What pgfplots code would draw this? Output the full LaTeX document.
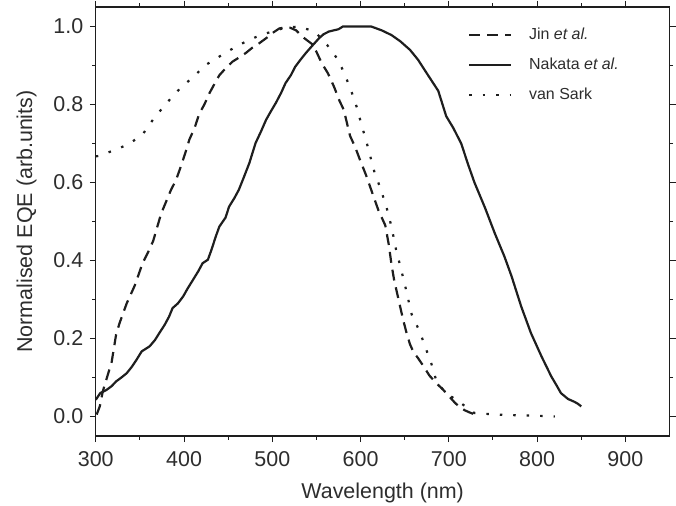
\documentclass[border=0pt]{standalone}
\usepackage{pgfplots}
\pgfplotsset{compat=1.18}
\usepackage{fontspec}
\setmainfont{Liberation Sans}
\definecolor{ink}{RGB}{30,30,30}
\definecolor{txt}{RGB}{45,45,45}
\begin{document}
\begin{tikzpicture}
\begin{axis}[
  at={(0,0)}, anchor=south west,
  scale only axis, width=575pt, height=430pt,
  xmin=300, xmax=950, ymin=-0.05, ymax=1.05,
  xtick={300,400,...,900}, ytick={0,0.2,...,1.0},
  minor x tick num=1, minor y tick num=1,
  tick align=outside, xtick pos=both, ytick pos=both,
  major tick length=6pt, minor tick length=3.5pt,
  every tick/.style={ink, line width=1pt},
  axis line style={ink, line width=1.1pt},
  /pgf/number format/assume math mode=true,
  yticklabel style={/pgf/number format/.cd, fixed, fixed zerofill, precision=1, /tikz/.cd, xshift=-3pt},
  xticklabel style={/pgf/number format/.cd, fixed, 1000 sep={}, /tikz/.cd, yshift=-6pt},
  tick label style={font=\fontsize{21.5}{25}\selectfont, text=txt},
  label style={font=\fontsize{21.5}{25}\selectfont, text=txt},
  xlabel={Wavelength (nm)}, ylabel={Normalised EQE (arb.units)},
  xlabel style={yshift=-9pt}, ylabel style={yshift=10pt},
  legend style={draw=none, fill=none, at={(0.645,0.96)}, anchor=north west,
    font=\fontsize{16}{19}\selectfont, text=txt, row sep=13pt,
    inner xsep=2pt, /tikz/every odd column/.append style={column sep=15pt}},
  legend cell align=left,
  legend image code/.code={\draw[#1] (0pt,0pt) -- (42pt,0pt);},
  clip=true,
]
\addplot[ink, line width=2.2pt, dash pattern=on 11pt off 7pt] coordinates {
(301,0.005) (304.5,0.026) (308,0.065) (310,0.08) (314,0.11) (318,0.14)
(323,0.21) (327,0.24) (331,0.265) (335,0.29) (344,0.335) (353,0.393)
(359,0.42) (365,0.45) (374,0.52) (385,0.58) (391,0.607) (397,0.645)
(402,0.68) (406,0.71) (412,0.74) (417,0.775) (423,0.80) (429,0.83)
(435,0.855) (440,0.875) (448,0.895) (455,0.91) (462,0.92) (470,0.932)
(477,0.945) (481,0.95) (490,0.965) (496,0.975) (500,0.983) (508,0.995)
(515,0.998) (520,0.997) (527,0.99) (535,0.972) (545,0.955) (550,0.935)
(556,0.906) (563,0.88) (570,0.845) (576,0.81) (581,0.786) (588,0.72)
(594,0.69) (599,0.66) (606,0.62) (613,0.575) (620,0.53) (628,0.49)
(632,0.44) (635,0.39) (638,0.35) (641,0.32) (644,0.29) (648,0.25)
(652,0.215) (656,0.185) (660,0.165) (665,0.15) (671,0.13) (678,0.105)
(686,0.085) (693,0.07) (701,0.05) (707,0.035) (712,0.025) (718,0.016)
(724,0.01) (731,0.004)
};
\addlegendentry{Jin \textit{et al.}}
\addplot[ink, line width=2.2pt] coordinates {
(300,0.043) (305,0.06) (312,0.068) (318,0.078) (323,0.09) (329,0.1)
(335,0.111) (341,0.128) (346,0.145) (352,0.167) (361,0.18) (367,0.196)
(372,0.214) (378,0.235) (383,0.256) (387,0.278) (393,0.29) (399,0.308)
(404,0.328) (410,0.35) (416,0.372) (421,0.393) (427,0.402) (431,0.427)
(436,0.462) (440,0.487) (447,0.51) (451,0.538) (457,0.56) (462,0.581)
(468,0.615) (474,0.65) (481,0.701) (487,0.73) (493,0.761) (499,0.785)
(504,0.804) (510,0.83) (515,0.855) (521,0.875) (526,0.897) (532,0.915)
(538,0.932) (545,0.95) (553,0.97) (558,0.98) (564,0.987) (575,0.993)
(580,1.0) (595,1.0) (612,1.0) (624,0.99) (635,0.978) (645,0.962)
(656,0.94) (665,0.915) (675,0.88) (688,0.835) (697,0.77) (705,0.74)
(714,0.70) (722,0.645) (729,0.60) (741,0.535) (752,0.47) (763,0.41)
(771,0.36) (782,0.282) (793,0.214) (805,0.154) (816,0.103) (822,0.08)
(827,0.06) (835,0.045) (842,0.038) (846,0.033) (850,0.026)
};
\addlegendentry{Nakata \textit{et al.}}
\addplot[ink, line width=2.2pt, dash pattern=on 2.5pt off 11pt] coordinates {
(300,0.667) (303,0.668) (320,0.682) (337,0.698) (353,0.723) (366,0.765)
(380,0.803) (395,0.84) (410,0.87) (425,0.902) (443,0.927) (460,0.95)
(478,0.97) (494,0.983) (513,0.996) (530,1.0) (548,0.987) (562,0.953)
(575,0.913) (583,0.872) (590,0.831) (596,0.791) (601,0.748) (606,0.71)
(611,0.667) (616,0.624) (622,0.588) (629,0.54) (635,0.487) (640,0.43)
(645,0.385) (650,0.34) (654,0.30) (658,0.261) (667,0.218) (673,0.18)
(680,0.137) (686,0.09) (693,0.07) (700,0.055) (707,0.045) (714,0.034)
(722,0.02) (729,0.009) (748,0.006) (765,0.004) (784,0.003) (801,0.002)
(820,0.0)
};
\addlegendentry{van Sark}
\end{axis}
\path (-96pt,-69pt) rectangle (580pt,437pt);
\end{tikzpicture}
\end{document}
